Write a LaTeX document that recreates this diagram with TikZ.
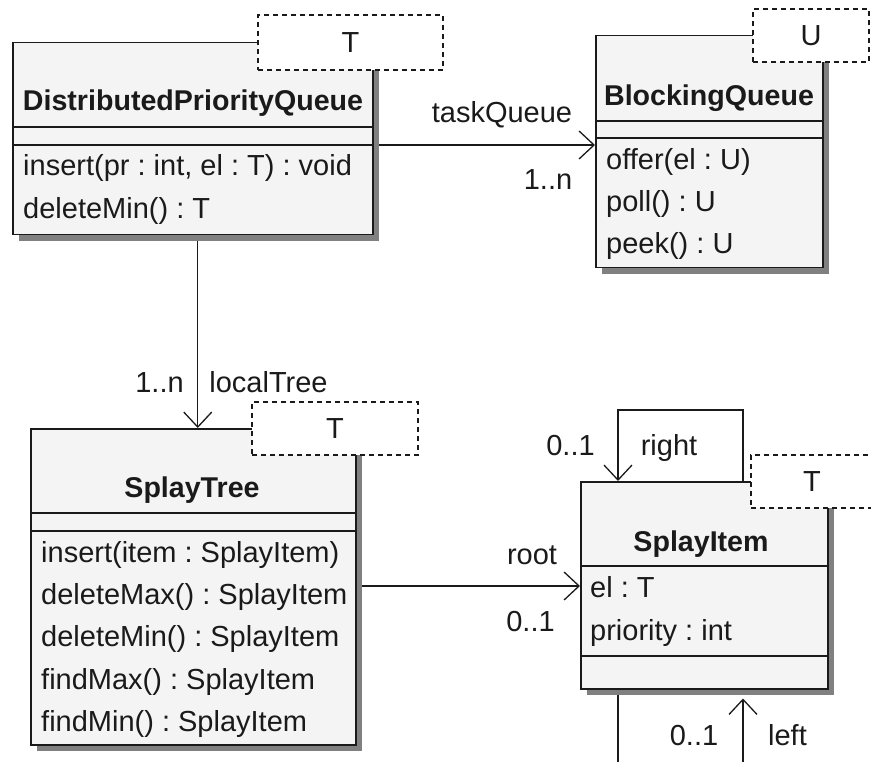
\documentclass[tikz,border=0pt]{standalone}
\usepackage{fontspec}
\setmainfont{Liberation Sans}
\usetikzlibrary{arrows.meta,shadows}
\definecolor{boxfill}{HTML}{F4F4F4}
\definecolor{shadowgray}{HTML}{808080}
\definecolor{ink}{HTML}{1A1A1A}
\pgfdeclarelayer{wires}
\pgfsetlayers{wires,main}
\frenchspacing

\begin{document}
\begin{tikzpicture}[x=1pt,y=-1pt,
  font=\fontsize{29}{33}\selectfont,
  every node/.style={text=ink},
  classbox/.style={draw=ink, line width=1.5pt, fill=boxfill, inner sep=0pt,
    anchor=north west,
    drop shadow={shadow xshift=6.5pt, shadow yshift=-6pt, fill=shadowgray, opacity=1}},
  tparam/.style={draw=ink, line width=1.4pt, dash pattern=on 5pt off 4pt,
    fill=white, inner sep=0pt},
  sepline/.style={draw=ink, line width=1.5pt},
  assoc/.style={draw=ink, line width=1.3pt,
    -{Straight Barb[length=15pt,width=28pt,line width=1.3pt]}},
  plainline/.style={draw=ink, line width=1.3pt},
  cname/.style={anchor=base, font=\fontsize{28.6}{33}\selectfont\bfseries},
  member/.style={anchor=base west, inner sep=0pt},
  lbl/.style={anchor=base, inner sep=0pt}]

\useasboundingbox (0,0) rectangle (871,762);

% class boxes
\node[classbox, minimum width=360pt, minimum height=192pt] (dpq) at (12,42) {};
\node[classbox, minimum width=227pt, minimum height=232pt] (bq) at (595,35) {};
\node[classbox, minimum width=325pt, minimum height=316pt] (st) at (30,428) {};
\node[classbox, minimum width=247pt, minimum height=207pt] (si) at (580,481) {};

% compartment separators
\draw[sepline] (dpq.west |- 0,127) -- (dpq.east |- 0,127);
\draw[sepline] (dpq.west |- 0,145) -- (dpq.east |- 0,145);
\draw[sepline] (bq.west |- 0,121) -- (bq.east |- 0,121);
\draw[sepline] (bq.west |- 0,138) -- (bq.east |- 0,138);
\draw[sepline] (st.west |- 0,513) -- (st.east |- 0,513);
\draw[sepline] (st.west |- 0,531) -- (st.east |- 0,531);
\draw[sepline] (si.west |- 0,566) -- (si.east |- 0,566);
\draw[sepline] (si.west |- 0,656) -- (si.east |- 0,656);

% DistributedPriorityQueue
\node[cname] (dpqName) at (193,111) {DistributedPriorityQueue};
\node[member] (dpqOp1) at (23,176) {insert(pr : int, el : T) : void};
\node[member] (dpqOp2) at (23,219) {deleteMin() : T};

% BlockingQueue
\node[cname] (bqName) at (709,106) {BlockingQueue};
\node[member] (bqOp1) at (606,170) {offer(el : U)};
\node[member] (bqOp2) at (606,212) {poll() : U};
\node[member] (bqOp3) at (606,254) {peek() : U};

% SplayTree
\node[cname] (stName) at (192,497) {SplayTree};
\node[member] (stOp1) at (41,562) {insert(item : SplayItem)};
\node[member] (stOp2) at (41,604) {deleteMax() : SplayItem};
\node[member] (stOp3) at (41,646) {deleteMin() : SplayItem};
\node[member] (stOp4) at (41,689) {findMax() : SplayItem};
\node[member] (stOp5) at (41,731) {findMin() : SplayItem};

% SplayItem
\node[cname] (siName) at (701,551) {SplayItem};
\node[member] (siAt1) at (590,597) {el : T};
\node[member] (siAt2) at (590,640) {priority : int};

% template parameters
\node[tparam, minimum width=185pt, minimum height=55pt] (dpqT) at (350.5,42.5) {T};
\node[tparam, minimum width=116pt, minimum height=53pt] (bqT) at (811,35.5) {U};
\node[tparam, minimum width=166pt, minimum height=53pt] (stT) at (335,428.5) {T};
\node[tparam, minimum width=122pt, minimum height=53pt] (siT) at (812,481.5) {T};

% associations, underneath the boxes and their shadows
\coordinate (leftend) at (743,775);
\coordinate (rightend) at (618,775);
\begin{pgfonlayer}{wires}
  \draw[assoc] (dpq.east |- 0,145) -- (bq.west |- 0,145);
  \draw[assoc] ([xshift=5pt]dpq.south) -- ([xshift=5pt]dpq.south |- st.north);
  \draw[assoc] (st.east |- 0,586) -- (si.west |- 0,586);
  \draw[assoc] ([xshift=163pt]si.north west) -- ++(0,-71)
    -| ([xshift=38pt]si.north west);
  \draw[plainline] ([xshift=38pt]si.south west) -- (rightend);
  \draw[assoc] (leftend) -- ([xshift=163pt,yshift=-9pt]si.south west);
\end{pgfonlayer}

% association labels
\node[lbl] (tqName) at (502,123) {taskQueue};
\node[lbl] (tqMult) at (548,190) {1..n};
\node[lbl] (ltMult) at (159.5,392) {1..n};
\node[lbl] (ltName) at (268.5,392) {localTree};
\node[lbl] (rootName) at (532,564) {root};
\node[lbl] (rootMult) at (530.5,631) {0..1};
\node[lbl] (rMult) at (570.5,455) {0..1};
\node[lbl] (rName) at (669,455) {right};
\node[lbl] (lMult) at (694,745) {0..1};
\node[lbl] (lName) at (787.5,745) {left};
\end{tikzpicture}
\end{document}
